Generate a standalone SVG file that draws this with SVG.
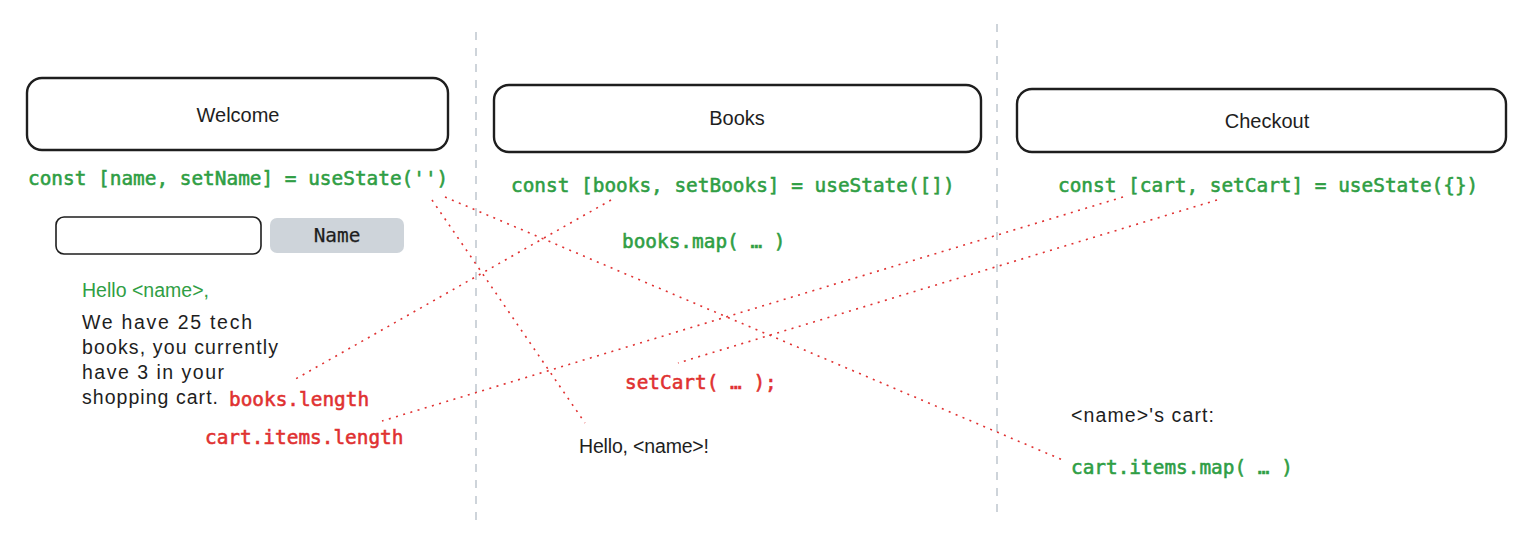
<svg xmlns="http://www.w3.org/2000/svg" width="1534" height="539" viewBox="0 0 1534 539">
<style>
.box{fill:#fff;stroke:#1e1e1e;stroke-width:2.4}
.hand{font-family:"Liberation Sans","Noto Sans",sans-serif;font-size:19.5px;fill:#1e1e1e;dominant-baseline:central}
.hgreen{fill:#2f9e44}
.title{font-family:"Liberation Sans","Noto Sans",sans-serif;font-size:20px;fill:#1e1e1e;dominant-baseline:central;text-anchor:middle}
.code{font-family:"DejaVu Sans Mono","Liberation Mono",monospace;font-size:19.4px;dominant-baseline:central;stroke-width:0.55}
.green{fill:#2f9e44;stroke:#2f9e44}
.red{fill:#e03131;stroke:#e03131}
.btn{fill:#1e1e1e;stroke:#1e1e1e;stroke-width:0.25;text-anchor:middle}
.div{stroke:#ced4da;stroke-width:2;stroke-dasharray:8 8;fill:none}
.link{stroke:#e03131;stroke-width:1.6;stroke-dasharray:2 5.5;fill:none}
</style>
<rect width="1534" height="539" fill="#fff"/>
<g id="dividers">
<line class="div" x1="476" y1="32" x2="476" y2="526"/>
<line class="div" x1="997" y1="24" x2="997" y2="518"/>
</g>
<g id="welcome">
<rect class="box" x="27" y="78" width="421" height="72" rx="15"/>
<text class="title" x="238" y="115">Welcome</text>
<text class="code green" x="28" y="178">const [name, setName] = useState('')</text>
<rect x="56" y="217" width="205" height="37" rx="8" fill="#fff" stroke="#1e1e1e" stroke-width="1.6"/>
<rect x="270" y="218" width="134" height="35" rx="7" fill="#ced4da"/>
<text class="code btn" x="337" y="235">Name</text>
<text class="hand hgreen" x="82" y="290" textLength="127">Hello &lt;name&gt;,</text>
<text class="hand" x="82" y="322" textLength="170">We have 25 tech</text>
<text class="hand" x="82" y="347" textLength="196">books, you currently</text>
<text class="hand" x="82" y="372" textLength="142">have 3 in your</text>
<text class="hand" x="82" y="397" textLength="136">shopping cart.</text>
<text class="code red" x="229" y="399">books.length</text>
<text class="code red" x="205" y="437">cart.items.length</text>
</g>
<g id="books">
<rect class="box" x="494" y="85" width="487" height="67" rx="15"/>
<text class="title" x="737" y="118">Books</text>
<text class="code green" x="511" y="185">const [books, setBooks] = useState([])</text>
<text class="code green" x="622" y="241">books.map( … )</text>
<text class="code red" x="625" y="382">setCart( … );</text>
<text class="hand" x="579" y="446" textLength="130">Hello, &lt;name&gt;!</text>
</g>
<g id="checkout">
<rect class="box" x="1017" y="89" width="489" height="63" rx="15"/>
<text class="title" x="1267" y="121">Checkout</text>
<text class="code green" x="1058" y="185">const [cart, setCart] = useState({})</text>
<text class="hand" x="1071" y="415" textLength="143">&lt;name&gt;'s cart:</text>
<text class="code green" x="1071" y="467">cart.items.map( … )</text>
</g>
<g id="connectors">
<line class="link" x1="432" y1="200" x2="585" y2="423"/>
<line class="link" x1="445" y1="197" x2="1065" y2="461"/>
<line class="link" x1="611" y1="200" x2="292" y2="381"/>
<line class="link" x1="1123" y1="197" x2="382" y2="421"/>
<line class="link" x1="1217" y1="200" x2="678" y2="363"/>
</g>
</svg>
